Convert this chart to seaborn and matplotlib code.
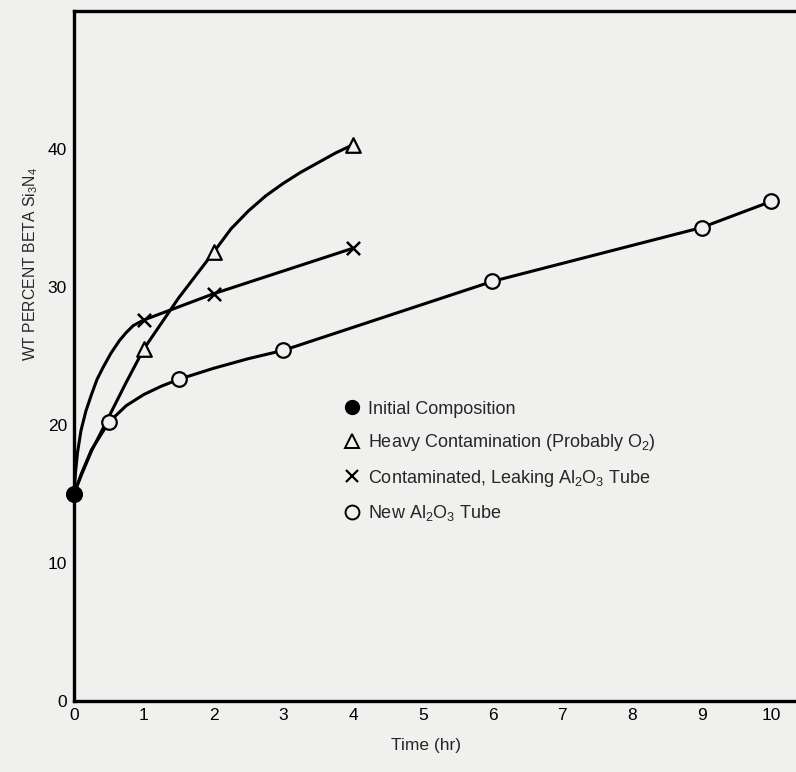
import matplotlib
matplotlib.use('Agg')
import matplotlib.pyplot as plt
import pandas as pd
import seaborn as sns
from matplotlib.lines import Line2D

# measured points (time in hr, wt percent beta Si3N4)
initial_t = [0]
initial_v = [15.0]
heavy_t = [1, 2, 4]
heavy_v = [25.5, 32.5, 40.3]
leak_t = [1, 2, 4]
leak_v = [27.6, 29.5, 32.8]
new_t = [0.5, 1.5, 3, 6, 9, 10]
new_v = [20.2, 23.3, 25.4, 30.4, 34.3, 36.2]

# hand-drawn curves
heavy_curve_t = [0, 0.1, 0.25, 0.5, 0.75, 1.0, 1.5, 2.0, 2.25, 2.5, 2.75, 3.0, 3.25, 3.5, 3.75, 4.0]
heavy_curve_v = [15, 16.3, 18.1, 20.6, 23.1, 25.5, 29.2, 32.5, 34.2, 35.5, 36.6, 37.5, 38.3, 39.0, 39.7, 40.3]
leak_curve_t = [0, 0.02, 0.05, 0.1, 0.17, 0.25, 0.33, 0.42, 0.53, 0.65, 0.75, 0.85, 1.0, 2.0, 4.0]
leak_curve_v = [15, 16.5, 18.0, 19.6, 21.0, 22.2, 23.3, 24.2, 25.2, 26.1, 26.7, 27.2, 27.6, 29.5, 32.8]
new_curve_t = [0, 0.1, 0.25, 0.5, 0.75, 1.0, 1.25, 1.5, 2.0, 2.5, 3.0, 6.0, 9.0, 10.0]
new_curve_v = [15, 16.4, 18.2, 20.2, 21.4, 22.2, 22.8, 23.3, 24.1, 24.8, 25.4, 30.4, 34.3, 36.2]

labels = ['Initial Composition',
          r'Heavy Contamination (Probably O$_2$)',
          r'Contaminated, Leaking Al$_2$O$_3$ Tube',
          r'New Al$_2$O$_3$ Tube']

x_ticks = list(range(0, 11))
y_ticks = [0, 10, 20, 30, 40]

bg = '#f0f0ef'
sns.set_style('white')
plt.rcParams['font.family'] = ['Liberation Sans', 'DejaVu Sans']
plt.rcParams['mathtext.default'] = 'regular'

fig = plt.figure(figsize=(7.96, 7.72), dpi=100, facecolor=bg)
ax = fig.add_axes([0.093, 0.092, 0.92, 0.894])
ax.set_facecolor(bg)

curves = [(heavy_curve_t, heavy_curve_v), (leak_curve_t, leak_curve_v), (new_curve_t, new_curve_v)]
for ct, cv in curves:
    d = pd.DataFrame({'t': ct, 'v': cv})
    sns.lineplot(data=d, x='t', y='v', sort=False, estimator=None, color='black',
                 linewidth=2.2, ax=ax, solid_capstyle='round', solid_joinstyle='round')

sns.scatterplot(x=heavy_t, y=heavy_v, marker='^', s=110, facecolor=bg, edgecolor='black',
                linewidth=1.6, ax=ax, legend=False, zorder=5)
sns.scatterplot(x=leak_t, y=leak_v, marker='x', s=90, linewidth=1.8, color='black',
                ax=ax, legend=False, zorder=5)
sns.scatterplot(x=new_t, y=new_v, marker='o', s=110, facecolor=bg, edgecolor='black',
                linewidth=1.6, ax=ax, legend=False, zorder=5)
sns.scatterplot(x=initial_t, y=initial_v, marker='o', s=130, color='black', edgecolor='black',
                ax=ax, legend=False, zorder=6, clip_on=False)

ax.set_xlim(0, 10.5)
ax.set_ylim(0, 50)
ax.set_xticks(x_ticks)
ax.set_yticks(y_ticks)
ax.tick_params(direction='in', length=11, width=1.6, labelsize=12.5, colors='black', pad=5)
for side in ['left', 'bottom', 'top']:
    ax.spines[side].set_linewidth(2.4)
    ax.spines[side].set_color('black')
ax.spines['right'].set_visible(False)

ax.set_xlabel('Time (hr)', fontsize=12.5)
ax.xaxis.set_label_coords(0.48, -0.054)
ax.set_ylabel(r'WT PERCENT BETA Si$_3$N$_4$', fontsize=11.3)
ax.yaxis.set_label_coords(-0.047, 0.633)

handles = [
    Line2D([], [], marker='o', linestyle='none', color='black', markersize=10),
    Line2D([], [], marker='^', linestyle='none', markerfacecolor='none', markeredgecolor='black',
           markersize=10, markeredgewidth=1.4),
    Line2D([], [], marker='x', linestyle='none', color='black', markersize=9, markeredgewidth=1.6),
    Line2D([], [], marker='o', linestyle='none', markerfacecolor='none', markeredgecolor='black',
           markersize=10, markeredgewidth=1.4),
]
ax.legend(handles, labels, loc='upper left', bbox_to_anchor=(0.37, 0.435), frameon=False,
          fontsize=13, handlelength=0.8, handletextpad=0.5, labelspacing=0.8,
          borderpad=0, borderaxespad=0)

fig.savefig('out.png', dpi=100, facecolor=bg)
